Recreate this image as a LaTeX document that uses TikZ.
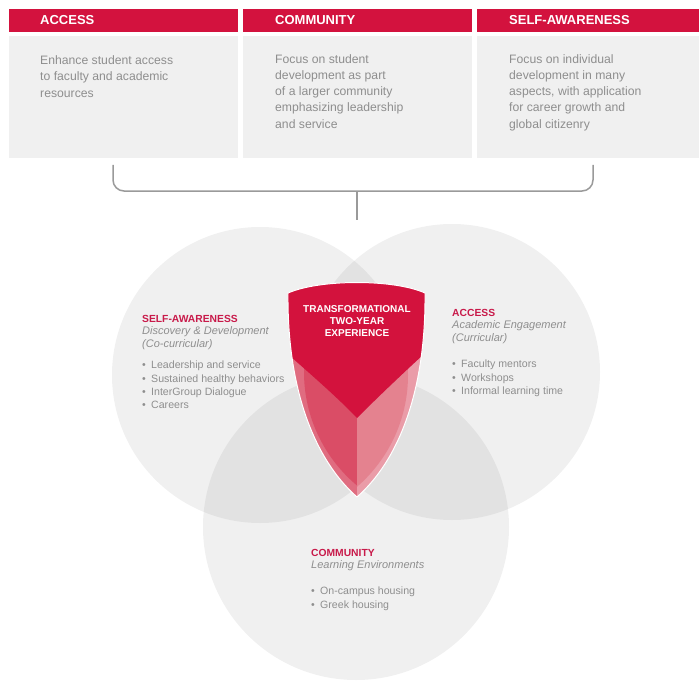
\documentclass[tikz,border=0pt]{standalone}
\usepackage{fontspec}
\setmainfont{Liberation Sans}
\definecolor{hdred}{HTML}{D3123E}
\definecolor{ttlred}{HTML}{C81A4A}
\definecolor{boxgray}{HTML}{F0F0F0}
\definecolor{txtgray}{HTML}{8E8E8E}
\definecolor{brgray}{HTML}{9A9A9A}
\definecolor{shtop}{HTML}{D3123D}
\definecolor{shLLa}{HTML}{E06C80}
\definecolor{shLLb}{HTML}{DA4D66}
\definecolor{shLRa}{HTML}{EA9CA8}
\definecolor{shLRb}{HTML}{E4828F}
\tikzset{
  hdrbar/.style={fill=hdred},
  bodybox/.style={fill=boxgray},
  hdrtext/.style={anchor=west, inner sep=0pt, text=white, font=\fontsize{13}{15}\selectfont\bfseries},
  bodytext/.style={anchor=north west, inner sep=0pt, text=txtgray, align=left, font=\fontsize{12.2}{16.3}\selectfont},
  venn/.style={fill=black, fill opacity=0.06},
  ttltext/.style={anchor=north west, inner sep=0pt, text=txtgray, align=left, font=\fontsize{11}{12.4}\selectfont},
  bultext/.style={anchor=north west, inner sep=0pt, text=txtgray, align=left, font=\fontsize{10.6}{13.3}\selectfont},
  shtext/.style={inner sep=0pt, text=white, align=center, font=\fontsize{10}{12}\selectfont\bfseries},
  bracket/.style={draw=brgray, line width=1.5pt, rounded corners=11pt}
}
\newcommand{\ttl}[1]{{\color{ttlred}\fontsize{10.3}{12.4}\selectfont\bfseries #1}}
\newcommand{\bul}{\makebox[9pt][l]{•}}
\begin{document}
\begin{tikzpicture}[x=1pt,y=-1pt]
\useasboundingbox (0,0) rectangle (699,682);
% top boxes
\fill[hdrbar] (9,9) rectangle (238,32);
\fill[bodybox] (9,36) rectangle (238,158);
\fill[hdrbar] (243,9) rectangle (472,32);
\fill[bodybox] (243,36) rectangle (472,158);
\fill[hdrbar] (477,9) rectangle (699,32);
\fill[bodybox] (477,36) rectangle (699,158);
\node[hdrtext] (h1) at (40,20.5) {ACCESS};
\node[hdrtext] (h2) at (275,20.5) {COMMUNITY};
\node[hdrtext] (h3) at (509,20.5) {SELF-AWARENESS};
\node[bodytext] (b1) at (40,55.5) {Enhance student access\\to faculty and academic\\resources};
\node[bodytext] (b2) at (275,54) {Focus on student\\development as part\\of a larger community\\emphasizing leadership\\and service};
\node[bodytext] (b3) at (509,54) {Focus on individual\\development in many\\aspects, with application\\for career growth and\\global citizenry};
% bracket
\coordinate (bl) at (113,165);
\coordinate (br) at (593,165);
\coordinate (stemtop) at (357,191);
\coordinate (stembot) at (357,220);
\draw[bracket] (bl) -- (113,191) -- (593,191) -- (br);
\draw[draw=brgray, line width=1.5pt] (stemtop) -- (stembot);
% venn circles
\fill[venn] (260,375) circle (148);
\fill[venn] (452,372) circle (148);
\fill[venn] (356,527) circle (153);
% shield
\begin{scope}
\clip (288,293) .. controls (320,279) and (394,279) .. (425,293) .. controls (426,390) and (399,460) .. (357,497) .. controls (315,460) and (287,390) .. cycle;
\fill[shLLa] (240,240) rectangle (357,510);
\begin{scope}
\clip (452,372) circle (148);
\fill[shLLb] (240,240) rectangle (357,510);
\end{scope}
\fill[shLRa] (357,240) rectangle (470,510);
\begin{scope}
\clip (260,375) circle (148);
\fill[shLRb] (357,240) rectangle (470,510);
\end{scope}
\fill[shtop] (240,240) -- (470,240) -- (470,352) -- (424,354) .. controls (400,376) and (375,400) .. (357,418) .. controls (340,400) and (315,378) .. (290,356) -- (240,352) -- cycle;
\end{scope}
\draw[white, line width=1pt] (288,293) .. controls (320,279) and (394,279) .. (425,293) .. controls (426,390) and (399,460) .. (357,497) .. controls (315,460) and (287,390) .. cycle;
\node[shtext] (core) at (357,321) {TRANSFORMATIONAL\\TWO-YEAR\\EXPERIENCE};
% circle texts
\node[ttltext] (sat) at (142,315) {\ttl{SELF-AWARENESS}\\\itshape Discovery \& Development\\\itshape (Co-curricular)};
\node[bultext] (sab) at (142,361) {\bul Leadership and service\\\bul Sustained healthy behaviors\\\bul InterGroup Dialogue\\\bul Careers};
\node[ttltext] (act) at (452,309) {\ttl{ACCESS}\\\itshape Academic Engagement\\\itshape (Curricular)};
\node[bultext] (acb) at (452,360) {\bul Faculty mentors\\\bul Workshops\\\bul Informal learning time};
\node[ttltext] (cot) at (311,549) {\ttl{COMMUNITY}\\\itshape Learning Environments};
\node[bultext] (cob) at (311,587) {\bul On-campus housing\\\bul Greek housing};
\end{tikzpicture}
\end{document}
